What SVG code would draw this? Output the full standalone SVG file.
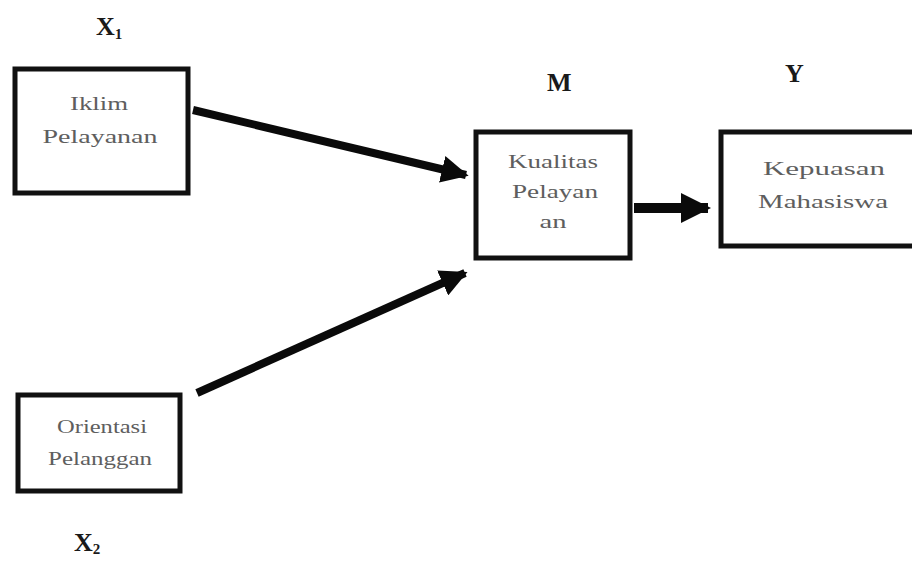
<svg xmlns="http://www.w3.org/2000/svg" width="912" height="561" viewBox="0 0 912 561">
  <defs>
    <style>
      .box { fill: #ffffff; stroke: #111111; stroke-width: 5; }
      .txt { font-family: "Liberation Serif", "Times New Roman", serif; font-size: 19px; fill: #5e5e5e; text-anchor: middle; }
      .lbl { font-family: "Liberation Serif", "Times New Roman", serif; font-size: 26px; font-weight: bold; fill: #1a1a1a; }
      .sub { font-size: 15px; }
      .conn { stroke: #0a0a0a; fill: none; }
    </style>
    <marker id="head" viewBox="0 0 10 10" refX="9" refY="5" markerWidth="3.4" markerHeight="3.4" orient="auto" markerUnits="strokeWidth">
      <path d="M0,0 L10,5 L0,10 Z" fill="#0a0a0a"/>
    </marker>
    <marker id="headBig" viewBox="0 0 10 10" refX="9" refY="5" markerWidth="3" markerHeight="3" orient="auto" markerUnits="strokeWidth">
      <path d="M0,0 L10,5 L0,10 Z" fill="#0a0a0a"/>
    </marker>
  </defs>

  <rect width="912" height="561" fill="#ffffff"/>

  <!-- variable labels -->
  <text class="lbl" x="96" y="35">X<tspan class="sub" dy="4">1</tspan></text>
  <text class="lbl" x="74" y="551">X<tspan class="sub" dy="3">2</tspan></text>
  <text class="lbl" x="547" y="91">M</text>
  <text class="lbl" x="785" y="82">Y</text>

  <g id="node-iklim">
    <rect class="box" x="15" y="69" width="173" height="124"/>
    <text class="txt" x="99" y="110" textLength="58" lengthAdjust="spacingAndGlyphs">Iklim</text>
    <text class="txt" x="100" y="143" textLength="115" lengthAdjust="spacingAndGlyphs">Pelayanan</text>
  </g>

  <g id="node-orientasi">
    <rect class="box" x="18" y="395" width="162" height="96"/>
    <text class="txt" x="102" y="433" textLength="90" lengthAdjust="spacingAndGlyphs">Orientasi</text>
    <text class="txt" x="100" y="465" textLength="104" lengthAdjust="spacingAndGlyphs">Pelanggan</text>
  </g>

  <g id="node-kualitas">
    <rect class="box" x="476" y="132" width="154" height="126"/>
    <text class="txt" x="553" y="168" textLength="90" lengthAdjust="spacingAndGlyphs">Kualitas</text>
    <text class="txt" x="555" y="198" textLength="86" lengthAdjust="spacingAndGlyphs">Pelayan</text>
    <text class="txt" x="553" y="228" textLength="27" lengthAdjust="spacingAndGlyphs">an</text>
  </g>

  <g id="node-kepuasan">
    <rect class="box" x="721" y="132" width="200" height="114"/>
    <text class="txt" x="824" y="175" textLength="122" lengthAdjust="spacingAndGlyphs">Kepuasan</text>
    <text class="txt" x="823" y="208" textLength="130" lengthAdjust="spacingAndGlyphs">Mahasiswa</text>
  </g>

  <g id="connectors">
    <line class="conn" x1="193" y1="110" x2="466" y2="175" style="stroke-width:8" marker-end="url(#head)"/>
    <line class="conn" x1="197" y1="393" x2="465" y2="273" style="stroke-width:8" marker-end="url(#head)"/>
    <line class="conn" x1="634" y1="208" x2="708" y2="208" style="stroke-width:10" marker-end="url(#headBig)"/>
  </g>
</svg>
